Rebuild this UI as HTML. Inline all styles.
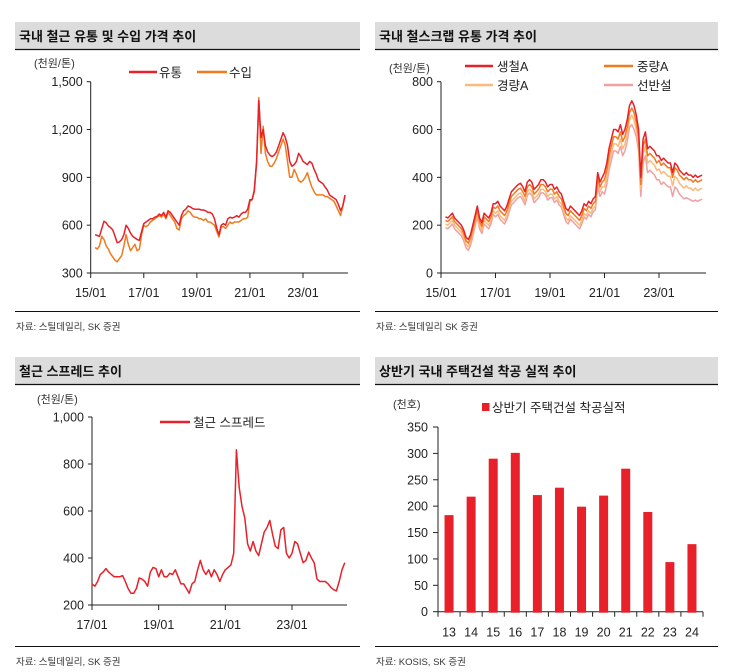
<!DOCTYPE html>
<html><head><meta charset="utf-8">
<style>
html,body{margin:0;padding:0;background:#fff;}
svg{display:block;font-family:"Liberation Sans","Noto Sans CJK KR",sans-serif;}
.t{font-size:13px;font-weight:bold;fill:#111;}
.tk{font-size:12.5px;fill:#222;}
.u{font-size:11px;fill:#333;}
.lg{font-size:12.5px;fill:#222;}
.src{font-size:9.5px;fill:#333;}
</style></head>
<body>
<svg id="s" width="735" height="672" viewBox="0 0 735 672">
 <g>
  <rect x="15" y="22" width="345" height="27" fill="#dcdcdc"/>
  <line x1="15" y1="49.5" x2="360" y2="49.5" stroke="#111" stroke-width="1.2"/>
  <text x="19" y="41" class="t">국내 철근 유통 및 수입 가격 추이</text>
  <text x="34" y="67" class="u">(천원/톤)</text>
  <line x1="129" y1="72" x2="157" y2="72" stroke="#e8202a" stroke-width="2.5"/>
  <text x="159" y="77" class="lg">유통</text>
  <line x1="197" y1="72" x2="227" y2="72" stroke="#f07a1e" stroke-width="2.5"/>
  <text x="229" y="77" class="lg">수입</text>
  <line x1="15" y1="311.5" x2="360" y2="311.5" stroke="#111" stroke-width="1"/>
  <text x="16" y="330" class="src">자료: 스틸데일리, SK 증권</text>
  <g id="p1"></g>
 </g>
 <g>
  <rect x="375" y="22" width="343" height="27" fill="#dcdcdc"/>
  <line x1="375" y1="49.5" x2="718" y2="49.5" stroke="#111" stroke-width="1.2"/>
  <text x="379" y="41" class="t">국내 철스크랩 유통 가격 추이</text>
  <text x="389" y="72" class="u">(천원/톤)</text>
  <line x1="465" y1="66" x2="493" y2="66" stroke="#e8202a" stroke-width="2.5"/>
  <text x="497" y="71" class="lg">생철A</text>
  <line x1="604" y1="66" x2="633" y2="66" stroke="#f07a1e" stroke-width="2.5"/>
  <text x="637" y="71" class="lg">중량A</text>
  <line x1="465" y1="85" x2="493" y2="85" stroke="#fdb97a" stroke-width="2.5"/>
  <text x="497" y="90" class="lg">경량A</text>
  <line x1="604" y1="85" x2="633" y2="85" stroke="#f0a0a0" stroke-width="2.5"/>
  <text x="637" y="90" class="lg">선반설</text>
  <line x1="375" y1="311.5" x2="718" y2="311.5" stroke="#111" stroke-width="1"/>
  <text x="376" y="330" class="src">자료: 스틸데일리 SK 증권</text>
  <g id="p2"></g>
 </g>
 <g>
  <rect x="15" y="357" width="345" height="27" fill="#dcdcdc"/>
  <line x1="15" y1="384.5" x2="360" y2="384.5" stroke="#111" stroke-width="1.2"/>
  <text x="19" y="376" class="t">철근 스프레드 추이</text>
  <text x="37" y="403" class="u">(천원/톤)</text>
  <line x1="160" y1="422" x2="190" y2="422" stroke="#e8202a" stroke-width="2.5"/>
  <text x="193" y="427" class="lg">철근 스프레드</text>
  <line x1="15" y1="646.5" x2="360" y2="646.5" stroke="#111" stroke-width="1"/>
  <text x="16" y="665" class="src">자료: 스틸데일리, SK 증권</text>
  <g id="p3"></g>
 </g>
 <g>
  <rect x="375" y="357" width="343" height="27" fill="#dcdcdc"/>
  <line x1="375" y1="384.5" x2="718" y2="384.5" stroke="#111" stroke-width="1.2"/>
  <text x="379" y="376" class="t">상반기 국내 주택건설 착공 실적 추이</text>
  <text x="393" y="408" class="u">(천호)</text>
  <rect x="482" y="403" width="7.5" height="8" fill="#e8202a"/>
  <text x="492" y="412" class="lg">상반기 주택건설 착공실적</text>
  <line x1="375" y1="646.5" x2="718" y2="646.5" stroke="#111" stroke-width="1"/>
  <text x="376" y="665" class="src">자료: KOSIS, SK 증권</text>
  <g id="p4"></g>
 </g>
</svg>
<script>
// ---- panel 1 data (monthly, 2015-03 .. 2024-08)
const p1Start = 2015 + 2/12;
const p1Dist = [540,535,530,580,625,615,595,585,570,530,
490,495,510,540,600,580,550,530,520,510,505,560,
610,620,630,640,640,650,655,670,660,680,650,690,
680,660,640,620,600,660,690,700,720,715,705,700,
700,700,695,695,690,680,680,670,640,580,540,600,
610,600,640,650,645,650,660,650,670,680,680,700,
760,760,820,1000,1380,1150,1200,1100,1060,1040,1030,1040,
1060,1100,1140,1180,1150,1100,1000,970,980,1000,1050,1030,
1000,990,980,1000,990,950,920,880,870,860,840,820,
790,780,770,760,730,690,720,790];
const p1Import = [460,450,470,530,510,470,450,420,400,380,
370,390,410,470,540,480,440,460,480,440,450,540,
600,590,600,620,630,640,650,660,650,670,640,680,
660,640,620,580,570,640,660,670,690,680,660,650,
650,640,640,630,640,620,620,610,600,560,525,590,
590,580,600,620,610,620,620,620,630,640,640,650,
750,760,810,990,1400,1050,1220,1050,1000,970,970,990,
1020,1060,1100,1140,1100,1000,900,900,950,920,880,870,
880,900,930,880,840,810,790,790,790,790,780,780,
770,760,750,720,690,660,720,780];
const p1YTicks = [300,600,900,1200,1500];
const p1YLabels = ["300","600","900","1,200","1,500"];
const p1XTicks = ["15/01","17/01","19/01","21/01","23/01"];
// ---- panel 2 data
const p2Start = 2015 + 2/12;
const p2Scrap = [235,230,240,250,230,220,210,200,180,150,
140,160,200,240,280,230,210,250,240,230,250,290,
290,300,280,270,260,280,310,340,350,360,370,375,
360,340,380,390,380,350,360,370,390,390,380,360,
370,370,350,360,340,330,300,270,260,280,270,260,
250,240,260,290,280,300,290,310,320,420,380,400,
420,460,520,560,600,600,590,620,580,600,640,700,
720,700,660,600,400,560,590,520,530,520,510,490,
490,470,480,470,460,460,420,460,450,430,420,410,
420,410,410,400,410,400,405,410];
const p2Heavy = [220,215,225,235,215,205,195,185,165,135,
125,145,185,225,265,215,195,235,225,215,235,275,
270,280,260,250,240,260,290,320,330,340,350,355,
340,320,360,370,360,330,340,350,370,370,360,340,
350,350,330,340,320,310,280,250,240,260,250,240,
230,220,240,270,260,280,270,290,300,400,360,380,
390,430,490,530,570,570,560,590,550,570,610,670,
690,670,630,570,370,530,560,490,500,490,480,460,
470,450,460,450,440,440,400,440,430,410,400,390,
400,390,390,380,390,380,385,390];
const p2Light = [205,200,210,220,200,190,180,170,150,120,
110,130,170,210,250,200,180,220,210,200,220,260,
250,260,240,230,220,240,270,300,310,320,330,335,
320,300,340,350,340,310,320,330,350,350,340,320,
330,330,310,320,300,290,260,230,220,240,230,220,
210,200,220,250,240,260,250,270,280,380,340,360,
360,400,460,500,540,540,530,560,520,540,580,640,
660,640,600,540,350,500,530,460,470,460,450,430,
435,415,425,415,405,405,365,405,395,375,365,355,
365,355,355,345,355,345,350,355];
const p2Turn = [190,185,195,205,185,175,165,155,135,105,
95,115,155,195,235,185,165,205,195,185,205,245,
235,245,225,215,205,225,255,285,295,305,315,320,
305,285,325,335,325,295,305,315,335,335,325,305,
315,315,295,305,285,275,245,215,205,225,215,205,
195,185,205,235,225,245,235,255,265,360,320,340,
330,370,430,470,510,510,500,530,490,510,550,610,
620,600,570,510,320,460,490,420,430,420,410,390,
390,370,380,370,360,360,320,360,350,330,320,310,
315,310,305,300,305,300,305,308];
const p2YTicks = [0,200,400,600,800];
const p2XTicks = ["15/01","17/01","19/01","21/01","23/01"];
// ---- panel 3 data (monthly, 2017-01 .. 2024-08)
const p3Start = 2017;
const p3Spread = [290,280,300,330,340,355,340,330,320,320,320,325,
300,270,250,250,270,315,310,300,280,340,360,355,
320,350,320,320,335,330,350,320,290,290,270,250,
290,300,350,390,350,330,350,320,350,330,300,330,
350,360,370,420,860,700,620,570,460,430,470,430,
410,460,510,530,560,500,450,440,520,530,420,400,
420,470,460,420,380,390,425,400,380,310,300,300,
300,290,275,265,260,300,350,380];
const p3YTicks = [200,400,600,800,1000];
const p3YLabels = ["200","400","600","800","1,000"];
const p3XTicks = ["17/01","19/01","21/01","23/01"];
// ---- panel 4 data
const p4Years = ["13","14","15","16","17","18","19","20","21","22","23","24"];
const p4Values = [183,218,290,301,221,235,199,220,271,189,94,128];
const p4YTicks = [0,50,100,150,200,250,300,350];

const NS="http://www.w3.org/2000/svg";
function mk(parent,tag,attrs){const e=document.createElementNS(NS,tag);for(const k in attrs)e.setAttribute(k,attrs[k]);parent.appendChild(e);return e;}
function txt(parent,x,y,s,cls,anchor){const e=mk(parent,'text',{x:x,y:y,class:cls,'text-anchor':anchor});e.textContent=s;return e;}

function lineChart(g,cfg){
  const {x0,x1,y0,y1,vmin,vmax,tStart,tEnd,yticks,ylabels,xticks,xtickYears,series}=cfg;
  const sx=t=>x0+(t-tStart)/(tEnd-tStart)*(x1-x0);
  const sy=v=>y0-(v-vmin)/(vmax-vmin)*(y0-y1);
  const ax=mk(g,'path',{d:`M${x0} ${y1}V${y0}H${cfg.xEnd}`,fill:'none',stroke:'#222','stroke-width':1});
  
  
  yticks.forEach((v,i)=>{
    mk(g,'line',{x1:x0-4,x2:x0,y1:sy(v),y2:sy(v),stroke:'#222'});
    const t=txt(g,x0-8,sy(v)+4.5,ylabels?ylabels[i]:String(v),'tk','end');
    
    
  });
  xticks.forEach((s,i)=>{
    const X=sx(xtickYears[i]);
    mk(g,'line',{x1:X,x2:X,y1:y0,y2:y0+5,stroke:'#222'});
    const t=txt(g,X,y0+24,s,'tk','middle');
    
    
  });
  series.forEach(se=>{
    const d=se.data.map((v,i)=>(i?'L':'M')+sx(se.start+i/12).toFixed(1)+' '+sy(v).toFixed(1)).join('');
    const p=mk(g,'path',{d:d,fill:'none',stroke:se.color,'stroke-width':1.5,'stroke-linejoin':'round'});
    
    
  });
}
const yrs=a=>a.map(s=>2000+parseInt(s.slice(0,2)));
// panel 1: 15/01 at x=90.7, 23/01 at x=303
lineChart(document.getElementById('p1'),{x0:90.7,x1:303,y0:273,y1:81.7,vmin:300,vmax:1500,tStart:2015,tEnd:2023,
  xEnd:348,yticks:p1YTicks,ylabels:p1YLabels,xticks:p1XTicks,xtickYears:yrs(p1XTicks),
  series:[{data:p1Import,start:p1Start,color:'#f07a1e',name:'series-import'},{data:p1Dist,start:p1Start,color:'#e8202a',name:'series-distribution'}]});
lineChart(document.getElementById('p2'),{x0:441,x1:659,y0:273,y1:81.7,vmin:0,vmax:800,tStart:2015,tEnd:2023,
  xEnd:706,yticks:p2YTicks,ylabels:null,xticks:p2XTicks,xtickYears:yrs(p2XTicks),
  series:[{data:p2Turn,start:p2Start,color:'#f0a0a0',name:'series-turnings'},{data:p2Light,start:p2Start,color:'#fdb97a',name:'series-light-a'},
  {data:p2Heavy,start:p2Start,color:'#f07a1e',name:'series-heavy-a'},{data:p2Scrap,start:p2Start,color:'#e8202a',name:'series-scrap-a'}]});
lineChart(document.getElementById('p3'),{x0:92,x1:292,y0:605,y1:417,vmin:200,vmax:1000,tStart:2017,tEnd:2023,
  xEnd:347,yticks:p3YTicks,ylabels:p3YLabels,xticks:p3XTicks,xtickYears:yrs(p3XTicks),
  series:[{data:p3Spread,start:p3Start,color:'#e8202a',name:'series-spread'}]});

// panel 4 bars
(function(){
  const g=document.getElementById('p4');
  const x0=438,x1=703,y0=611.7,y1=427,vmax=350;
  const sy=v=>y0-v/vmax*(y0-y1);
  const bw=(x1-x0)/p4Years.length;
  mk(g,'path',{d:`M${x0} ${y1}V${y0}H${x1}`,fill:'none',stroke:'#222'});
  p4YTicks.forEach(v=>{
    mk(g,'line',{x1:x0-5,x2:x0,y1:sy(v),y2:sy(v),stroke:'#222'});
    const t=txt(g,x0-10,sy(v)+4.5,String(v),'tk','end');
    
    
  });
  for(let i=0;i<=p4Years.length;i++){mk(g,'line',{x1:x0+i*bw,x2:x0+i*bw,y1:y0,y2:y0+5,stroke:'#222'});}
  p4Years.forEach((s,i)=>{
    const cx=x0+(i+0.5)*bw;
    const r=mk(g,'rect',{x:cx-4.5,y:sy(p4Values[i]),width:9,height:y0-sy(p4Values[i])+1,fill:'#e8202a'});
    
    
    const t=txt(g,cx,y0+25,s,'tk','middle');
    
    
  });
})();
</script>
</body></html>
